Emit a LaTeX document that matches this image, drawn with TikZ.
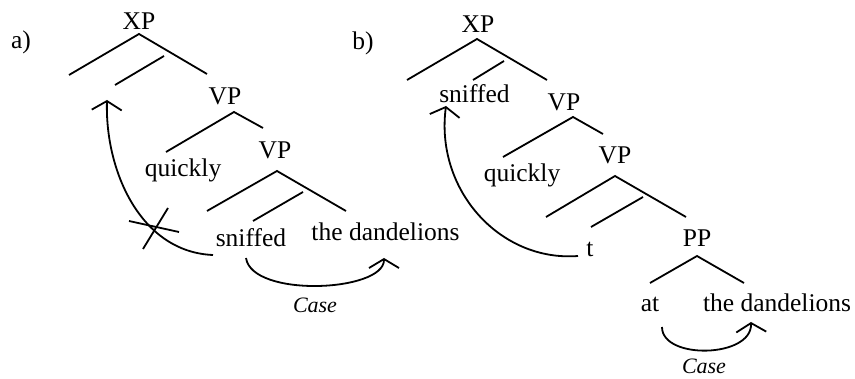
\documentclass[tikz,border=0pt]{standalone}
\usepackage{fontspec}
\setmainfont{Liberation Serif}
\usetikzlibrary{arrows.meta}

\begin{document}
\begin{tikzpicture}[x=1pt,y=-1pt,line width=1.8pt,
>={Straight Barb[length=9pt,width=30pt]},
lbl/.style={anchor=base,inner sep=0pt,font=\fontsize{25.5}{30}\selectfont},
cs/.style={anchor=base,inner sep=0pt,font=\fontsize{22}{26}\selectfont\itshape}]

\useasboundingbox (0,0) rectangle (855,379);

\node[lbl] (la) at (21,49) {a)};
\node[lbl] (lb) at (363,50) {b)};

\node[lbl] (xpa) at (139,29.5) {XP};
\node[lbl] (vpa) at (225,105) {VP};
\node[lbl] (qa) at (183,177) {quickly};
\node[lbl] (vpaa) at (275,159) {VP};
\node[lbl] (sna) at (251,247) {sniffed};
\node[lbl] (dna) at (385.5,241) {the dandelions};
\node[cs] (csa) at (315,313) {Case};

\coordinate (xa) at (139,34);
\coordinate (xa1) at (69,75);
\coordinate (xa2) at (207,74);
\coordinate (xa3) at (164,56);
\coordinate (xa4) at (115,85);
\coordinate (va) at (234,112);
\coordinate (va1) at (166,152);
\coordinate (va2) at (263,128);
\coordinate (wa) at (277,171);
\coordinate (wa1) at (207,211);
\coordinate (wa2) at (346,211);
\coordinate (wa3) at (303,192);
\coordinate (wa4) at (253,221);

\draw (xa1) -- (xa) -- (xa2);
\draw (xa3) -- (xa4);
\draw (va1) -- (va) -- (va2);
\draw (wa1) -- (wa) -- (wa2);
\draw (wa3) -- (wa4);

\coordinate (ma) at (213,255);
\coordinate (ga) at (107,100);
\draw[->] (ma) .. controls (140,252) and (105,170) .. (ga);
\coordinate (ka1) at (129,221);
\coordinate (ka2) at (179,232);
\coordinate (ka3) at (168,208);
\coordinate (ka4) at (143,249);
\draw (ka1) -- (ka2);
\draw (ka3) -- (ka4);

\coordinate (ca) at (246,258);
\coordinate (ta) at (384,258);
\draw[->] (ca) .. controls (252,298) and (384,292) .. (ta);

\node[lbl] (xpb) at (478,33) {XP};
\node[lbl] (snb) at (474.5,103) {sniffed};
\node[lbl] (vpb) at (564,111) {VP};
\node[lbl] (qb) at (522,182) {quickly};
\node[lbl] (vpbb) at (615,164) {VP};
\node[lbl] (tb) at (590,257) {t};
\node[lbl] (ppb) at (697,247) {PP};
\node[lbl] (atb) at (650,312) {at};
\node[lbl] (dnb) at (777,312) {the dandelions};
\node[cs] (csb) at (704,374) {Case};

\coordinate (xb) at (477,39);
\coordinate (xb1) at (407,80);
\coordinate (xb2) at (547,80);
\coordinate (xb3) at (504,61);
\coordinate (xb4) at (473,80);
\coordinate (vb) at (573,117);
\coordinate (vb1) at (503,157);
\coordinate (vb2) at (603,134);
\coordinate (wb) at (615,176);
\coordinate (wb1) at (546,217);
\coordinate (wb2) at (686,217);
\coordinate (wb3) at (643,197);
\coordinate (wb4) at (591,227);
\coordinate (pb) at (697,256);
\coordinate (pb1) at (650,283);
\coordinate (pb2) at (744,283);

\draw (xb1) -- (xb) -- (xb2);
\draw (xb3) -- (xb4);
\draw (vb1) -- (vb) -- (vb2);
\draw (wb1) -- (wb) -- (wb2);
\draw (wb3) -- (wb4);
\draw (pb1) -- (pb) -- (pb2);

\coordinate (mb) at (578,256);
\coordinate (gb) at (446,106);
\draw[->] (mb) .. controls (500,262) and (435,190) .. (gb);

\coordinate (cb) at (662,327);
\coordinate (tbb) at (751,322);
\draw[->] (cb) .. controls (662,360) and (752,358) .. (tbb);

\end{tikzpicture}
\end{document}
